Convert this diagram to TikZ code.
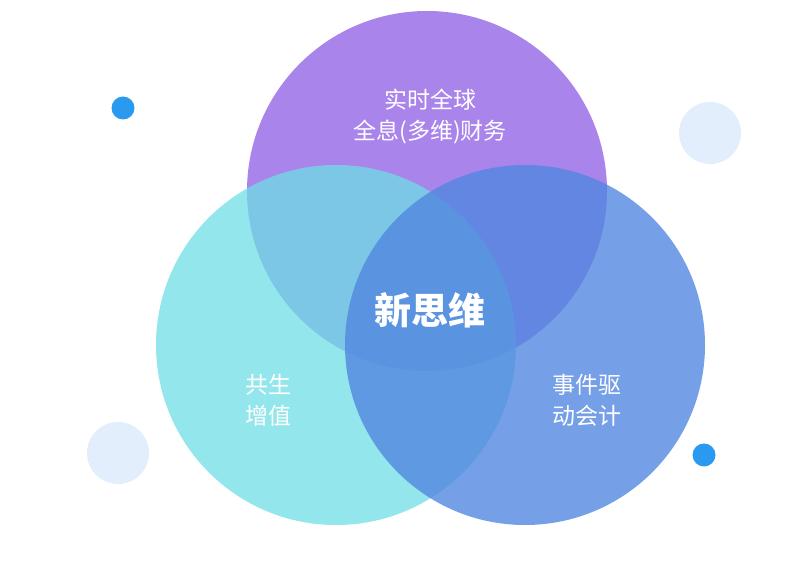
\documentclass[tikz,border=0pt]{standalone}
\usepackage{fontspec}
\newfontfamily\cjk{Noto Sans CJK SC}
\usetikzlibrary{positioning}
\definecolor{topc}{HTML}{9A6EE6}
\definecolor{leftc}{HTML}{6FDEE5}
\definecolor{rightc}{HTML}{5287E0}
\definecolor{dotc}{HTML}{2A9AF0}
\definecolor{palec}{HTML}{E2EEFB}
\tikzstyle{ring} = [circle, minimum size=360pt, inner sep=0pt, fill opacity=0.85, draw=none]
\tikzstyle{label} = [text=white, align=center, font=\cjk\fontsize{23}{31}\selectfont]
\tikzstyle{dot} = [circle, inner sep=0pt, draw=none]

\begin{document}
\begin{tikzpicture}[x=1pt,y=-1pt]
    \useasboundingbox (0,0) rectangle (806,569);
    % decorative dots
    \node [dot, fill=dotc, minimum size=23pt] (d1) at (123,108) {};
    \node [dot, fill=palec, minimum size=62pt] (d2) at (710,133) {};
    \node [dot, fill=palec, minimum size=62pt] (d3) at (118,453) {};
    \node [dot, fill=dotc, minimum size=23pt] (d4) at (704,455) {};

    % three circles
    \node [ring, fill=topc] (top) at (427,191) {};
    \node [ring, fill=leftc, fill opacity=0.75] (left) at (336,345) {};
    \node [ring, fill=rightc, fill opacity=0.8] (right) at (525,345) {};

    % labels
    \node [label] (tl) at (430,116) {实时全球\\全息(多维)财务};
    \node [label, font=\cjk\bfseries\fontsize{37}{42}\selectfont] (mid) at (430,310) {新思维};
    \node [label] (ll) at (268,400) {共生\\增值};
    \node [label] (rl) at (587,400) {事件驱\\动会计};
\end{tikzpicture}
\end{document}
